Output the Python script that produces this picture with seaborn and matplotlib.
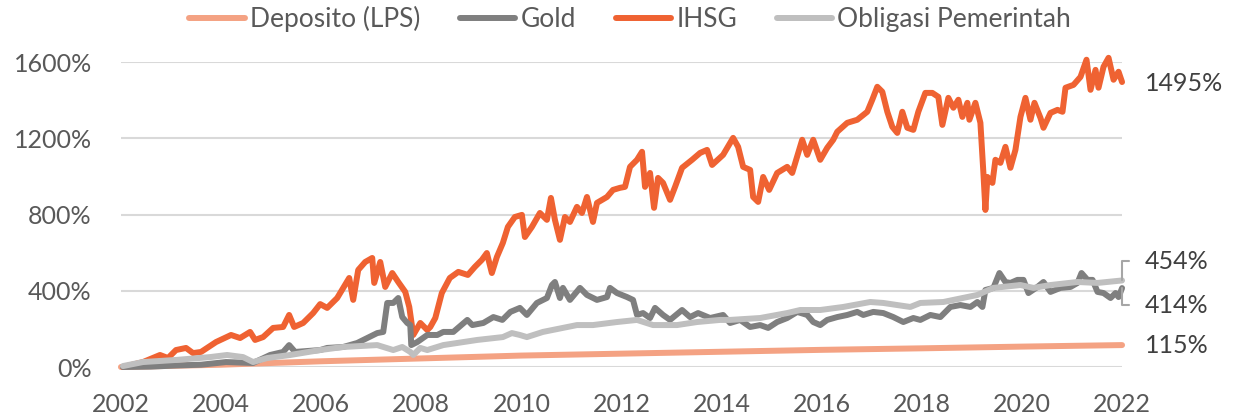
import numpy as np
import matplotlib.pyplot as plt
import pandas as pd
import seaborn as sns


# series (x = decimal year, y = cumulative return in %)
ihsg_year = [2002.04, 2002.44, 2002.78, 2002.94, 2003.10, 2003.30, 2003.44, 2003.60, 2003.90, 2004.20,
             2004.38, 2004.58, 2004.68, 2004.84, 2005.04, 2005.24, 2005.36, 2005.46, 2005.64, 2005.84,
             2005.98, 2006.12, 2006.32, 2006.44, 2006.56, 2006.64, 2006.74, 2006.88, 2007.02, 2007.06,
             2007.18, 2007.28, 2007.42, 2007.54, 2007.68, 2007.76, 2007.84, 2007.98, 2008.12, 2008.18,
             2008.28, 2008.41, 2008.57, 2008.74, 2008.93, 2009.07, 2009.21, 2009.31, 2009.41, 2009.51,
             2009.63, 2009.73, 2009.87, 2010.01, 2010.07, 2010.21, 2010.37, 2010.51, 2010.59, 2010.67,
             2010.77, 2010.87, 2010.97, 2011.11, 2011.21, 2011.31, 2011.43, 2011.51, 2011.71, 2011.83,
             2011.97, 2012.07, 2012.17, 2012.31, 2012.41, 2012.47, 2012.57, 2012.65, 2012.73, 2012.83,
             2012.97, 2013.07, 2013.21, 2013.41, 2013.57, 2013.71, 2013.81, 2014.03, 2014.23, 2014.33,
             2014.43, 2014.57, 2014.63, 2014.73, 2014.83, 2014.95, 2015.11, 2015.31, 2015.41, 2015.61,
             2015.71, 2015.83, 2015.97, 2016.11, 2016.23, 2016.31, 2016.51, 2016.71, 2016.91, 2017.01,
             2017.11, 2017.21, 2017.31, 2017.41, 2017.51, 2017.61, 2017.71, 2017.83, 2017.93, 2018.07,
             2018.21, 2018.33, 2018.41, 2018.53, 2018.63, 2018.73, 2018.81, 2018.91, 2018.95, 2019.07,
             2019.17, 2019.23, 2019.27, 2019.31, 2019.41, 2019.47, 2019.57, 2019.67, 2019.77, 2019.87,
             2019.97, 2020.07, 2020.17, 2020.25, 2020.37, 2020.43, 2020.57, 2020.71, 2020.81, 2020.87,
             2021.03, 2021.17, 2021.29, 2021.37, 2021.47, 2021.53, 2021.63, 2021.73, 2021.83, 2021.93,
             2022.00]
ihsg_val = [0, 26, 63, 47, 89, 100, 73, 79, 131, 168,
            152, 184, 142, 157, 205, 210, 273, 210, 231, 283,
            330, 310, 362, 415, 467, 352, 509, 551, 572, 441,
            551, 420, 493, 446, 394, 315, 168, 231, 194, 210,
            257, 388, 467, 499, 483, 525, 562, 598, 493, 577,
            651, 735, 787, 798, 682, 735, 808, 772, 887, 772,
            667, 787, 761, 840, 808, 892, 761, 861, 892, 929,
            940, 945, 1050, 1087, 1129, 945, 1018, 835, 992, 966,
            877, 945, 1045, 1087, 1123, 1139, 1060, 1113, 1202, 1155,
            1050, 1034, 892, 866, 997, 929, 1018, 1050, 1018, 1192,
            1113, 1192, 1087, 1150, 1192, 1234, 1281, 1297, 1339, 1402,
            1470, 1444, 1339, 1260, 1228, 1339, 1255, 1244, 1339, 1438,
            1438, 1417, 1270, 1412, 1360, 1402, 1312, 1386, 1297, 1386,
            1281, 1018, 824, 997, 966, 1087, 1071, 1155, 1045, 1139,
            1312, 1412, 1297, 1386, 1307, 1255, 1333, 1349, 1339, 1465,
            1480, 1522, 1612, 1454, 1559, 1465, 1575, 1622, 1507, 1549,
            1495]

gold_year = [2002.04, 2002.60, 2003.10, 2003.60, 2004.10, 2004.64, 2004.98, 2005.24, 2005.36, 2005.48,
             2005.98, 2006.12, 2006.44, 2006.72, 2006.92, 2007.12, 2007.24, 2007.32, 2007.44, 2007.54,
             2007.62, 2007.72, 2007.78, 2007.80, 2007.92, 2008.12, 2008.32, 2008.44, 2008.64, 2008.92,
             2009.02, 2009.24, 2009.44, 2009.62, 2009.78, 2009.97, 2010.11, 2010.31, 2010.51, 2010.61,
             2010.67, 2010.77, 2010.83, 2010.97, 2011.17, 2011.31, 2011.51, 2011.71, 2011.77, 2011.91,
             2012.11, 2012.23, 2012.31, 2012.43, 2012.57, 2012.67, 2012.83, 2012.97, 2013.21, 2013.37,
             2013.53, 2013.77, 2014.03, 2014.17, 2014.37, 2014.57, 2014.77, 2014.93, 2015.11, 2015.31,
             2015.51, 2015.71, 2015.83, 2015.97, 2016.11, 2016.31, 2016.51, 2016.71, 2016.83, 2017.03,
             2017.23, 2017.43, 2017.63, 2017.83, 2017.97, 2018.17, 2018.37, 2018.57, 2018.77, 2018.97,
             2019.11, 2019.21, 2019.27, 2019.43, 2019.55, 2019.67, 2019.77, 2019.91, 2020.03, 2020.13,
             2020.31, 2020.43, 2020.57, 2020.77, 2020.97, 2021.11, 2021.19, 2021.31, 2021.41, 2021.51,
             2021.63, 2021.77, 2021.87, 2021.93, 2022.00]
gold_val = [0, 2, 8, 12, 26, 21, 63, 79, 115, 79,
            89, 100, 105, 126, 152, 178, 184, 336, 336, 362,
            262, 231, 220, 115, 131, 168, 168, 184, 184, 247,
            220, 231, 262, 247, 289, 310, 273, 336, 362, 430,
            446, 362, 415, 352, 415, 378, 352, 367, 415, 388,
            367, 352, 273, 283, 257, 310, 273, 247, 299, 262,
            283, 257, 273, 231, 247, 210, 220, 205, 236, 257,
            289, 273, 236, 220, 247, 262, 273, 289, 273, 289,
            283, 262, 236, 257, 247, 273, 262, 315, 325, 315,
            341, 315, 404, 415, 493, 446, 441, 457, 457, 388,
            420, 446, 394, 415, 420, 441, 493, 457, 457, 394,
            388, 362, 388, 367, 414]

bond_year = [2002.04, 2002.44, 2003.10, 2003.78, 2004.12, 2004.44, 2004.64, 2004.92, 2005.38, 2005.98,
             2006.44, 2007.12, 2007.44, 2007.62, 2007.78, 2007.84, 2007.98, 2008.12, 2008.44, 2009.12,
             2009.63, 2009.81, 2009.97, 2010.11, 2010.43, 2011.11, 2011.43, 2011.91, 2012.31, 2012.63,
             2013.11, 2013.51, 2013.97, 2014.17, 2014.77, 2015.31, 2015.57, 2015.97, 2016.43, 2016.97,
             2017.23, 2017.51, 2017.77, 2017.97, 2018.43, 2019.11, 2019.43, 2019.97, 2020.23, 2020.57,
             2021.11, 2021.51, 2022.00]
bond_val = [5, 26, 37, 52, 63, 52, 26, 47, 63, 89,
            105, 115, 89, 105, 79, 63, 100, 89, 115, 142,
            157, 178, 168, 157, 184, 220, 220, 236, 247, 220,
            220, 236, 247, 247, 257, 283, 299, 299, 315, 341,
            336, 325, 315, 336, 341, 378, 415, 430, 415, 430,
            446, 441, 454]

depo_year = [2002, 2004, 2006, 2008, 2010, 2012, 2014, 2016, 2018, 2020, 2022]
depo_val = [0, 12, 30, 45, 60, 70, 80, 90, 98, 107, 115]

series_names = ['Deposito (LPS)', 'Gold', 'IHSG', 'Obligasi Pemerintah']
series_colors = ['#F4A283', '#7F7F7F', '#EF6232', '#BFBFBF']
year_ticks = list(range(2002, 2023, 2))
pct_ticks = [0, 400, 800, 1200, 1600]

# end labels (label y position on value axis, leader line or not)
end_labels = {
    'IHSG': (1495, 1485, False),
    'Obligasi Pemerintah': (454, 555, True),
    'Gold': (414, 325, True),
    'Deposito (LPS)': (115, 115, False),
}


sns.set_style('white')
plt.rcParams['font.family'] = ['Lato', 'DejaVu Sans']
tick_color = '#595959'
label_color = '#404040'

fig = plt.figure(figsize=(12.43, 4.19), dpi=100)
ax = fig.add_axes([0.0973, 0.1241, 0.8054, 0.7279])

data = {
    'Deposito (LPS)': (depo_year, depo_val),
    'Gold': (gold_year, gold_val),
    'IHSG': (ihsg_year, ihsg_val),
    'Obligasi Pemerintah': (bond_year, bond_val),
}

# draw back to front: deposito, ihsg, gold, bond
for name in ['Deposito (LPS)', 'IHSG', 'Gold', 'Obligasi Pemerintah']:
    xs, ys = data[name]
    color = series_colors[series_names.index(name)]
    sns.lineplot(x=xs, y=ys, ax=ax, color=color, linewidth=4.3, label=name,
                 solid_capstyle='round', solid_joinstyle='round', clip_on=False)

ax.set_xlim(2002, 2022)
ax.set_ylim(0, 1600)
ax.set_xticks(year_ticks)
ax.set_xticklabels([str(y) for y in year_ticks])
ax.set_yticks(pct_ticks)
ax.set_yticklabels([f'{p}%' for p in pct_ticks])
ax.tick_params(axis='both', length=0, labelsize=18, colors=tick_color)
ax.tick_params(axis='x', pad=19)
ax.tick_params(axis='y', pad=21)
ax.grid(axis='y', color='#D9D9D9', linewidth=1.5)
ax.set_axisbelow(True)
for s in ax.spines.values():
    s.set_visible(False)

# legend in series order
handles, labels = ax.get_legend_handles_labels()
order = [labels.index(n) for n in series_names]
ax.legend([handles[i] for i in order], series_names, loc='center', bbox_to_anchor=(0.507, 0.955),
          bbox_transform=fig.transFigure, ncol=4, frameon=False, fontsize=19,
          handlelength=2.1, handletextpad=0.2, columnspacing=1.5, labelcolor=tick_color)

# value labels at the end of the lines
for name, (val, ypos, leader) in end_labels.items():
    if leader:
        ax.annotate(f'{val}%', xy=(2022, val), xytext=(2022.46, ypos), fontsize=18,
                    color=label_color, ha='left', va='center', annotation_clip=False,
                    arrowprops=dict(arrowstyle='-', color='#A6A6A6', lw=1.5, shrinkA=9, shrinkB=0,
                                    connectionstyle='angle,angleA=0,angleB=90,rad=0'))
    else:
        ax.annotate(f'{val}%', xy=(2022.46, ypos), fontsize=18, color=label_color,
                    ha='left', va='center', annotation_clip=False)

plt.savefig('out.png', dpi=100)
#plt.show() #debug
